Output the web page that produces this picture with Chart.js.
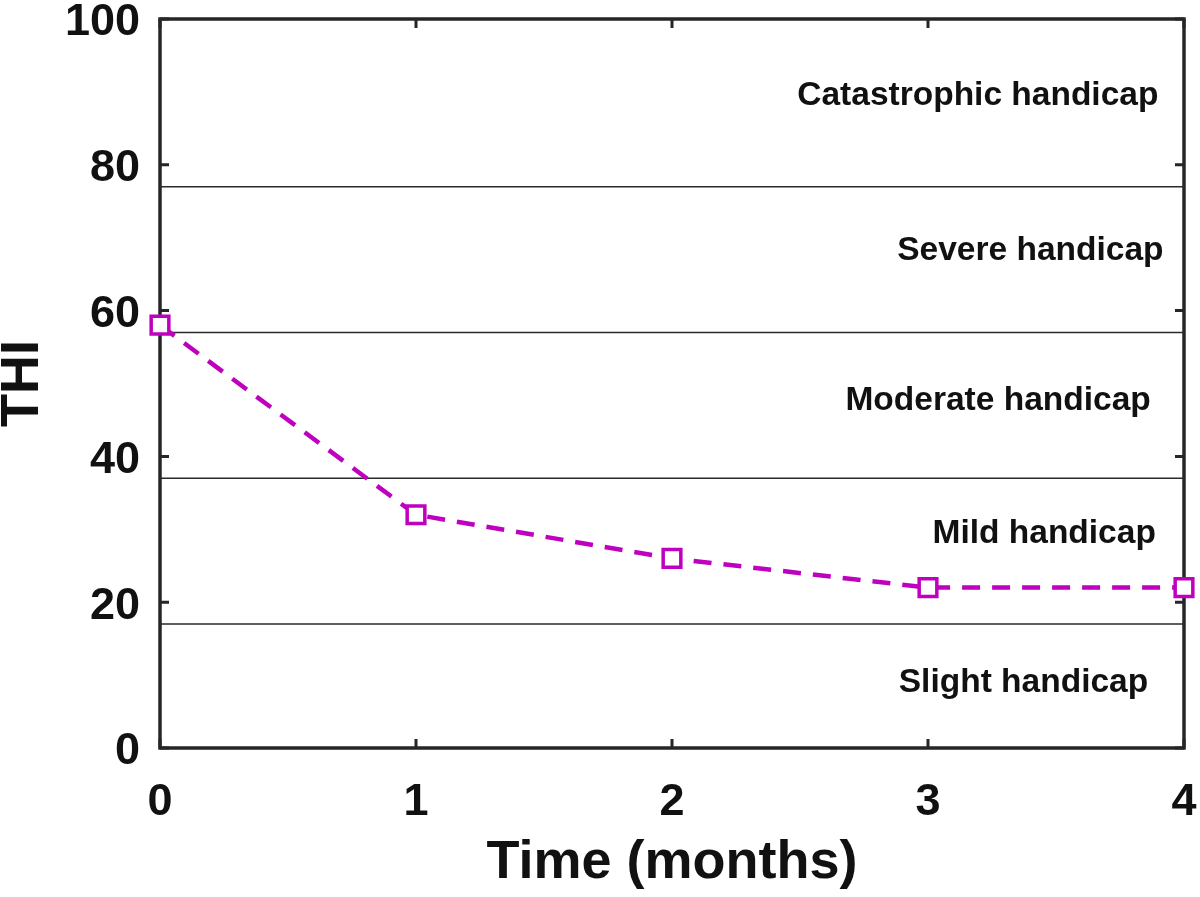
<!DOCTYPE html>
<html>
<head>
<meta charset="utf-8">
<script src="https://cdn.jsdelivr.net/npm/chart.js@4.4.1/dist/chart.umd.min.js"></script>
<style>
  html, body { margin: 0; padding: 0; background: #fff; }
</style>
</head>
<body>
<canvas id="thiChart" width="1200" height="897"></canvas>
<script>
const months = [0, 1, 2, 3, 4];
const thiScores = [58, 32, 26, 22, 22];
const yTicks = [0, 20, 40, 60, 80, 100];
const zoneBounds = [17, 37, 57, 77];
const zoneNames = ['Catastrophic handicap', 'Severe handicap', 'Moderate handicap', 'Mild handicap', 'Slight handicap'];
const zoneNameY = [88.2, 66.9, 46.4, 28.1, 7.7];
const zoneNameX = [3.9, 3.92, 3.87, 3.89, 3.86];

const FONT = '"Liberation Sans", Arial, Helvetica, sans-serif';
const INK = '#111';
const MAGENTA = '#bf00bf';

// box around the plot, inward ticks and the zone names
const framePlugin = {
    id: 'frame',
    beforeDatasetsDraw(chart) {
        const { ctx, chartArea: a, scales: { x, y } } = chart;
        ctx.save();
        ctx.strokeStyle = '#262626';
        ctx.lineWidth = 3.5;
        ctx.strokeRect(a.left, a.top, a.right - a.left, a.bottom - a.top);

        ctx.lineWidth = 3;
        ctx.beginPath();
        months.forEach(m => {
            const px = x.getPixelForValue(m);
            ctx.moveTo(px, a.bottom); ctx.lineTo(px, a.bottom - 9);
            ctx.moveTo(px, a.top); ctx.lineTo(px, a.top + 9);
        });
        yTicks.forEach(v => {
            const py = y.getPixelForValue(v);
            ctx.moveTo(a.left, py); ctx.lineTo(a.left + 9, py);
            ctx.moveTo(a.right, py); ctx.lineTo(a.right - 9, py);
        });
        ctx.stroke();

        ctx.font = 'bold 33.5px ' + FONT;
        ctx.fillStyle = INK;
        ctx.textAlign = 'right';
        ctx.textBaseline = 'alphabetic';
        zoneNames.forEach((t, i) => {
            ctx.fillText(t, x.getPixelForValue(zoneNameX[i]), y.getPixelForValue(zoneNameY[i]));
        });
        ctx.restore();
    }
};

const datasets = [{
    data: months.map((m, i) => ({ x: m, y: thiScores[i] })),
    borderColor: MAGENTA,
    borderWidth: 4.5,
    borderDash: [18, 12],
    pointStyle: 'rect',
    pointRadius: 12.5,
    pointBorderWidth: 3.5,
    pointBorderColor: MAGENTA,
    pointBackgroundColor: '#fff',
    tension: 0,
    clip: false
}];
zoneBounds.forEach(b => {
    datasets.push({
        data: [{ x: 0, y: b }, { x: 4, y: b }],
        borderColor: '#2a2a2a',
        borderWidth: 1.5,
        pointRadius: 0
    });
});

function noEdgePadding(scale) {
    scale.paddingTop = 0;
    scale.paddingBottom = 0;
    scale.paddingLeft = 0;
    scale.paddingRight = 0;
}

new Chart(document.getElementById('thiChart'), {
    type: 'line',
    data: { datasets: datasets },
    plugins: [framePlugin],
    options: {
        responsive: false,
        animation: false,
        devicePixelRatio: 1,
        layout: { padding: { left: 0, top: 19, right: 16, bottom: 0 } },
        plugins: { legend: { display: false }, tooltip: { enabled: false } },
        scales: {
            x: {
                type: 'linear',
                min: 0,
                max: 4,
                grid: { display: false, drawTicks: false },
                border: { display: false },
                ticks: {
                    stepSize: 1,
                    padding: 28,
                    color: INK,
                    font: { family: FONT, size: 45, weight: 'bold' }
                },
                title: {
                    display: true,
                    text: 'Time (months)',
                    color: INK,
                    padding: { top: 0, bottom: 7 },
                    font: { family: FONT, size: 54, weight: 'bold', lineHeight: 1 }
                },
                afterFit(scale) { scale.height = 149; noEdgePadding(scale); }
            },
            y: {
                min: 0,
                max: 100,
                grid: { display: false, drawTicks: false },
                border: { display: false },
                ticks: {
                    stepSize: 20,
                    padding: 20,
                    labelOffset: 4,
                    color: INK,
                    font: { family: FONT, size: 45, weight: 'bold' }
                },
                title: {
                    display: true,
                    text: 'THI',
                    color: INK,
                    padding: { top: 2, bottom: 0 },
                    font: { family: FONT, size: 54, weight: 'bold', lineHeight: 0.8 }
                },
                afterFit(scale) { scale.width = 160; noEdgePadding(scale); }
            }
        }
    }
});
</script>
</body>
</html>
